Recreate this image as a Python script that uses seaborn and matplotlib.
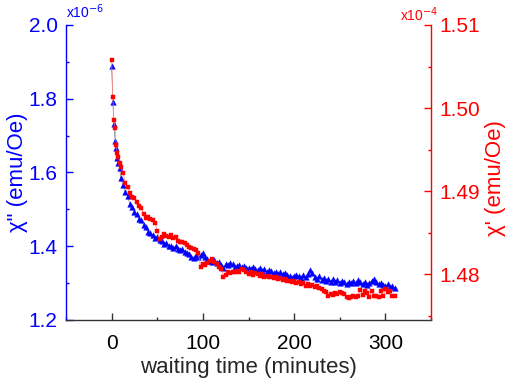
import numpy as np
import pandas as pd
import matplotlib
matplotlib.use("Agg")
import matplotlib.pyplot as plt
import seaborn as sns
from matplotlib.ticker import MultipleLocator

# waiting time in minutes (first 10 min sampled finer)
time_early = [0, 1.3, 2.5, 3.8, 5, 6.3, 7.5, 8.8, 10]
time_late = list(np.arange(12.5, 310.1, 2.5))
time_min = time_early + time_late

# chi'' in units of 1e-6 emu/Oe (left axis, blue)
chi_imag = [
    1.890, 1.792, 1.732, 1.685, 1.666, 1.640, 1.625, 1.612, 1.585,
    1.565, 1.547, 1.535, 1.515, 1.507, 1.492, 1.487, 1.475, 1.470, 1.457,
    1.451, 1.438, 1.436, 1.430, 1.422, 1.425, 1.416, 1.413, 1.406, 1.410,
    1.402, 1.400, 1.396, 1.401, 1.392, 1.390, 1.393, 1.385, 1.381, 1.378,
    1.371, 1.367, 1.375, 1.370, 1.377, 1.382, 1.371, 1.365, 1.361, 1.357,
    1.362, 1.355, 1.357, 1.350, 1.341, 1.352, 1.348, 1.355, 1.351, 1.345,
    1.347, 1.350, 1.343, 1.346, 1.341, 1.342, 1.338, 1.343, 1.337, 1.335,
    1.340, 1.333, 1.337, 1.331, 1.335, 1.332, 1.328, 1.331, 1.326, 1.330,
    1.325, 1.327, 1.322, 1.318, 1.315, 1.320, 1.323, 1.318, 1.315, 1.321,
    1.316, 1.325, 1.335, 1.327, 1.316, 1.311, 1.318, 1.309, 1.315, 1.307,
    1.312, 1.304, 1.311, 1.303, 1.308, 1.301, 1.307, 1.302, 1.297, 1.303,
    1.299, 1.307, 1.301, 1.309, 1.304, 1.298, 1.302, 1.296, 1.301, 1.307,
    1.311, 1.303, 1.297, 1.301, 1.294, 1.292, 1.297, 1.289, 1.293, 1.287,
]

# chi' in units of 1e-4 emu/Oe (right axis, red)
chi_real = [
    1.5058, 1.5013, 1.4986, 1.4976, 1.4955, 1.4946, 1.4941, 1.4934, 1.4929,
    1.4922, 1.4910, 1.4905, 1.4898, 1.4893, 1.4892, 1.4887, 1.4882, 1.4880, 1.4872,
    1.4868, 1.4869, 1.4866, 1.4865, 1.4861, 1.4852, 1.4842, 1.4845, 1.4848, 1.4846,
    1.4845, 1.4847, 1.4843, 1.4844, 1.4840, 1.4839, 1.4838, 1.4837, 1.4835, 1.4833,
    1.4831, 1.4830, 1.4829, 1.4825, 1.4808, 1.4812, 1.4811, 1.4813, 1.4816, 1.4818,
    1.4815, 1.4812, 1.4809, 1.4806, 1.4797, 1.4799, 1.4802, 1.4801, 1.4803, 1.4802,
    1.4804, 1.4803, 1.4806, 1.4805, 1.4803, 1.4800, 1.4802, 1.4799, 1.4801, 1.4800,
    1.4798, 1.4800, 1.4797, 1.4798, 1.4796, 1.4797, 1.4795, 1.4796, 1.4794, 1.4795,
    1.4793, 1.4794, 1.4791, 1.4792, 1.4790, 1.4791, 1.4789, 1.4790, 1.4788, 1.4789,
    1.4786, 1.4788, 1.4785, 1.4787, 1.4784, 1.4785, 1.4783, 1.4782, 1.4780, 1.4778,
    1.4774, 1.4776, 1.4775, 1.4777, 1.4776, 1.4778, 1.4777, 1.4776, 1.4772, 1.4771,
    1.4772, 1.4774, 1.4772, 1.4774, 1.4781, 1.4775, 1.4780, 1.4777, 1.4772, 1.4780,
    1.4774, 1.4773, 1.4772, 1.4779, 1.4773, 1.4782, 1.4778, 1.4780, 1.4774, 1.4773,
]

df = pd.DataFrame({"time": time_min, "chi_imag": chi_imag, "chi_real": chi_real})

sns.set_style("ticks")
plt.rcParams["font.family"] = ["Liberation Sans", "DejaVu Sans"]

fig = plt.figure(figsize=(5.05, 3.82), dpi=100)
ax = fig.add_axes([66 / 505, 1 - 320 / 382, 365 / 505, 295 / 382])
ax2 = ax.twinx()

# chi'' - blue triangles with a thin grey connecting line
sns.lineplot(data=df, x="time", y="chi_imag", ax=ax, color="gray", lw=0.5,
             errorbar=None, zorder=1)
sns.scatterplot(data=df, x="time", y="chi_imag", ax=ax, marker="^", s=16,
                color="blue", edgecolor="blue", linewidth=0.3, zorder=2)

# chi' - red squares
sns.lineplot(data=df, x="time", y="chi_real", ax=ax2, color="#ff8080", lw=0.5,
             errorbar=None, zorder=1)
sns.scatterplot(data=df, x="time", y="chi_real", ax=ax2, marker="s", s=11,
                color="red", edgecolor="red", linewidth=0.3, zorder=2)

ax.set_xlim(-50, 350)
ax.set_ylim(1.2, 2.0)
ax2.set_ylim(1.47446, 1.51)

ax.xaxis.set_major_locator(MultipleLocator(100))
ax.xaxis.set_minor_locator(MultipleLocator(50))
ax.yaxis.set_major_locator(MultipleLocator(0.2))
ax.yaxis.set_minor_locator(MultipleLocator(0.1))
ax2.yaxis.set_major_locator(MultipleLocator(0.01))
ax2.yaxis.set_minor_locator(MultipleLocator(0.005))
ax.yaxis.set_major_formatter(plt.FormatStrFormatter("%.1f"))
ax2.yaxis.set_major_formatter(plt.FormatStrFormatter("%.2f"))

for a in (ax, ax2):
    a.spines["top"].set_visible(False)
ax.spines["right"].set_visible(False)
ax2.spines["left"].set_visible(False)
ax2.spines["bottom"].set_visible(False)
ax.spines["left"].set_color("blue")
ax2.spines["right"].set_color("red")
ax.spines["bottom"].set_color("#333333")
for s in ("left", "bottom"):
    ax.spines[s].set_linewidth(1.0)
ax2.spines["right"].set_linewidth(1.0)

ax.tick_params(axis="x", which="major", direction="in", length=5, width=1,
               colors="#333333", labelcolor="black", labelsize=15, pad=10)
ax.tick_params(axis="x", which="minor", direction="in", length=2.5, width=1,
               colors="#333333")
ax.tick_params(axis="y", which="major", direction="in", length=5, width=1,
               colors="blue", labelsize=15, pad=6)
ax.tick_params(axis="y", which="minor", direction="in", length=2.5, width=1,
               colors="blue")
ax2.tick_params(axis="y", which="major", direction="in", length=5, width=1,
                colors="red", labelsize=15, pad=6)
ax2.tick_params(axis="y", which="minor", direction="in", length=2.5, width=1,
                colors="red")

ax.set_xlabel("waiting time (minutes)", fontsize=16, labelpad=3)
ax.set_ylabel('χ" (emu/Oe)', fontsize=16, color="blue")
ax2.set_ylabel("χ' (emu/Oe)", fontsize=16, color="red")
ax.yaxis.set_label_coords(-0.104, 0.5)
ax2.yaxis.set_label_coords(1.148, 0.48)

ax.text(0.0, 1.015, r"x10$^{-6}$", transform=ax.transAxes, color="blue",
        fontsize=10, ha="left", va="bottom")
ax2.text(1.02, 1.005, r"x10$^{-4}$", transform=ax2.transAxes, color="red",
         fontsize=10, ha="right", va="bottom")

fig.savefig("out.png", dpi=100)
